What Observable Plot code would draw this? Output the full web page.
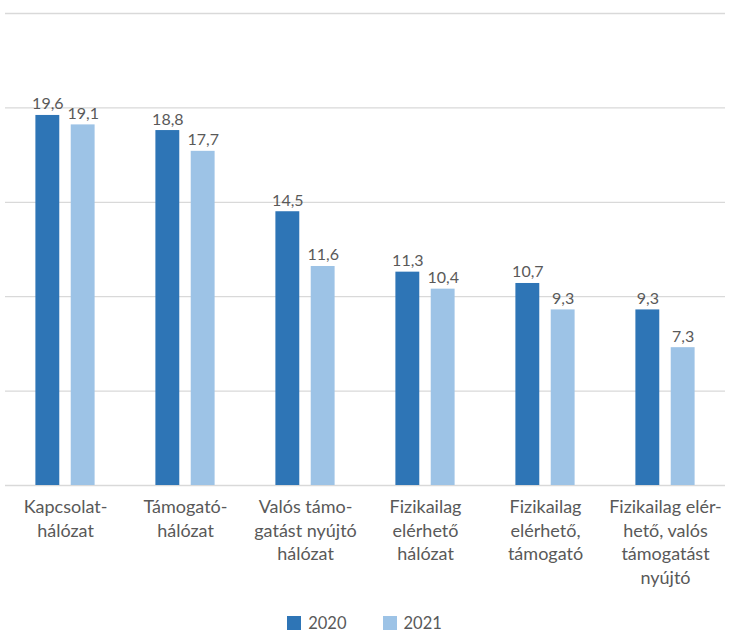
<!DOCTYPE html>
<html><head><meta charset="utf-8">
<script src="https://cdn.jsdelivr.net/npm/d3@7"></script>
<script src="https://cdn.jsdelivr.net/npm/@observablehq/plot@0.6"></script>
<style>
body{margin:0;background:#fff;font-family:Lato,"Liberation Sans",sans-serif;overflow:hidden;}
#chart svg{display:block;}
#legend{display:flex;justify-content:center;align-items:center;padding-top:15px;height:16px;line-height:16px;font-size:16.5px;color:#595959;}
.item{display:flex;align-items:center;margin:0 18px;}
.sw{width:14px;height:14px;margin-right:7px;display:inline-block;}
</style>
</head><body>
<div id="chart"></div>
<div id="legend"></div>
<script>
const categories = [
  "Kapcsolat-\nhálózat",
  "Támogató-\nhálózat",
  "Valós támo-\ngatást nyújtó\nhálózat",
  "Fizikailag\nelérhető\nhálózat",
  "Fizikailag\nelérhető,\ntámogató",
  "Fizikailag elér-\nhető, valós\ntámogatást\nnyújtó"
];
const years = ["2020", "2021"];
const values2020 = [19.6, 18.8, 14.5, 11.3, 10.7, 9.3];
const values2021 = [19.1, 17.7, 11.6, 10.4, 9.3, 7.3];
const gridTicks = [5, 10, 15, 20, 25];
const colors = ["#2E75B6", "#9DC3E6"];

const data = categories.flatMap((c, i) => [
  {cat: c, year: years[0], value: values2020[i]},
  {cat: c, year: years[1], value: values2021[i]}
]);
const fmt = v => v.toFixed(1).replace(".", ",");

const plot = Plot.plot({
  width: 729, height: 600,
  marginTop: 13, marginBottom: 115, marginLeft: 4.5, marginRight: 4.5,
  style: {fontFamily: "Lato, 'Liberation Sans', sans-serif", background: "#fff"},
  fx: {domain: categories, padding: 0, label: null},
  x: {domain: years, paddingInner: 0.324, paddingOuter: 0.86, round: false, axis: null},
  y: {domain: [0, 25], axis: null},
  color: {domain: years, range: colors},
  marks: [
    Plot.gridY(gridTicks, {stroke: "#D9D9D9", strokeOpacity: 1, strokeWidth: 1.3}),
    Plot.ruleY([0], {stroke: "#D9D9D9", strokeWidth: 1.3}),
    Plot.barY(data, {fx: "cat", x: "year", y: "value", fill: "year"}),
    Plot.text(data, {fx: "cat", x: "year", y: "value", text: d => fmt(d.value), lineAnchor: "bottom", dy: -6, fill: "#595959", fontSize: 16}),
    Plot.axisFx({anchor: "bottom", tickSize: 0, tickPadding: 11, fontSize: 18, lineHeight: 1.31, fill: "#595959", label: null})
  ]
});
document.getElementById("chart").appendChild(plot);

const legend = document.getElementById("legend");
years.forEach((y, i) => {
  const it = document.createElement("div");
  it.className = "item";
  it.innerHTML = `<span class="sw" style="background:${colors[i]}"></span><span>${y}</span>`;
  legend.appendChild(it);
});
</script>
</body></html>
